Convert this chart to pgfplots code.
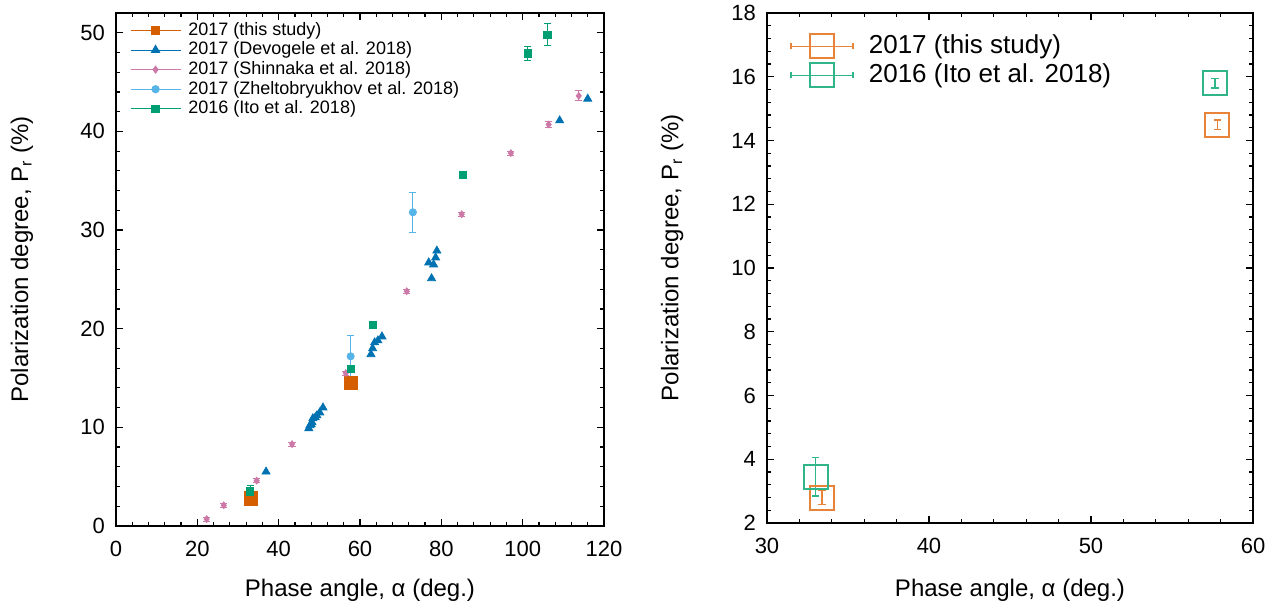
\documentclass[border=0pt]{standalone}
\usepackage{fontspec}
\setmainfont{Liberation Sans}
\usepackage{pgfplots}
\pgfplotsset{compat=1.18}

\definecolor{cOrange}{HTML}{D55E00}
\definecolor{cBlue}{HTML}{0072B2}
\definecolor{cPink}{HTML}{CC79A7}
\definecolor{cSky}{HTML}{56B4E9}
\definecolor{cGreen}{HTML}{009E73}
\definecolor{rOrange}{HTML}{E8833A}
\definecolor{rGreen}{HTML}{30B48A}

\pgfplotsset{
  myax/.style={
    scale only axis,
    axis line style={line width=0.9pt},
    tick align=inside, xtick pos=both, ytick pos=both,
    major tick length=3.5pt, minor tick length=2pt,
    every tick/.style={black, line width=0.6pt},
    tick label style={font=\fontsize{11}{13}\selectfont},
    xticklabel style={yshift=-4pt},
    yticklabel style={xshift=-2pt},
    label style={font=\fontsize{12}{14}\selectfont},
    /pgf/number format/assume math mode=true,
    legend cell align=left,
  },
  lerr/.style={error bars/.cd, y dir=both, y explicit,
    error bar style={line width=0.5pt},
    error mark options={rotate=90, mark size=1.8pt, line width=0.5pt}},
  rerr/.style={error bars/.cd, y dir=both, y explicit,
    error bar style={line width=0.8pt},
    error mark options={rotate=90, mark size=1.8pt, line width=0.8pt}},
}

\begin{document}
\begin{tikzpicture}
\useasboundingbox (-58pt,-43pt) rectangle (582.5pt,263pt);

% left panel
\begin{axis}[myax,
  at={(0pt,0pt)}, anchor=south west,
  width=244pt, height=256.5pt,
  xmin=0, xmax=120, ymin=0, ymax=52,
  xtick={0,20,...,120}, ytick={0,10,...,50},
  minor x tick num=4, minor y tick num=4,
  xlabel={Phase angle, α (deg.)},
  ylabel={Polarization degree, P\textsubscript{r} (\%)},
  xlabel style={at={(axis description cs:0.5,-0.125)}, anchor=center},
  ylabel style={at={(axis description cs:-0.193,0.52)}, anchor=center},
  legend style={draw=none, fill=none, font=\fontsize{9}{10}\selectfont,
    at={(axis description cs:0.028,0.985)}, anchor=north west,
    inner sep=0pt, row sep=0.5pt,
    nodes={inner sep=0.6pt, text height=6.5pt, text depth=1.6pt},
    /tikz/every odd column/.append style={column sep=3pt}},
  legend image code/.code={
    \draw[#1, sharp plot, mark repeat=2, mark phase=2, line width=0.5pt]
      plot coordinates {(0pt,0pt) (12.5pt,0pt) (25pt,0pt)};},
]
\addplot[cOrange, only marks, mark=square*, mark size=3.3pt,
  legend image post style={mark size=2.2pt}] coordinates {
  (33.2,2.8) (57.7,14.5)
};
\addplot[cBlue, only marks, mark=triangle*, mark size=2.3pt] coordinates {
  (36.9,5.5) (47.4,9.9) (47.7,10.2) (48.0,10.3) (48.2,10.5) (48.4,10.9)
  (49.0,11.0) (49.4,11.2) (50.1,11.5) (50.9,12.0)
  (62.7,17.4) (63.1,18.0) (63.6,18.6) (64.4,18.8) (65.4,19.2)
  (77.6,25.1) (76.9,26.7) (78.1,26.5) (78.6,27.2) (78.9,27.9)
  (109.1,41.1) (116.0,43.3)
};
\addplot[cPink, only marks, mark=diamond*, mark size=1.7pt, lerr]
  table[x=x, y=y, y error=e] {
  x     y     e
  22.3  0.7   0.2
  26.5  2.1   0.2
  34.6  4.6   0.2
  43.3  8.3   0.2
  56.5  15.5  0.2
  71.5  23.8  0.2
  85.0  31.6  0.2
  97.1  37.8  0.2
  106.4 40.7  0.3
  113.8 43.6  0.5
};
\addplot[cSky, only marks, mark=*, mark size=1.8pt, lerr]
  table[x=x, y=y, y error=e] {
  x     y     e
  57.7  17.2  2.1
  73.0  31.8  2.0
};
\addplot[cGreen, only marks, mark=square*, mark size=1.8pt, lerr]
  table[x=x, y=y, y error=e] {
  x     y     e
  33.0  3.5   0.6
  57.7  15.9  0.2
  63.2  20.4  0.2
  85.3  35.6  0.3
  101.2 47.9  0.7
  106.1 49.8  1.1
};
\legend{2017 (this study), 2017 (Devogele et al. 2018), 2017 (Shinnaka et al. 2018),
  2017 (Zheltobryukhov et al. 2018), 2016 (Ito et al. 2018)}
\end{axis}

% right panel
\begin{axis}[myax,
  at={(325.5pt,1.5pt)}, anchor=south west,
  width=243pt, height=255pt,
  xmin=30, xmax=60, ymin=2, ymax=18,
  xtick={30,40,...,60}, ytick={2,4,...,18},
  minor x tick num=4, minor y tick num=4,
  xlabel={Phase angle, α (deg.)},
  ylabel={Polarization degree, P\textsubscript{r} (\%)},
  xlabel style={at={(axis description cs:0.5,-0.131)}, anchor=center},
  ylabel style={at={(axis description cs:-0.195,0.52)}, anchor=center},
  legend style={draw=none, fill=none, font=\fontsize{13}{15}\selectfont,
    at={(axis description cs:0.047,0.906)}, anchor=west,
    inner sep=0pt, row sep=1.2pt,
    nodes={inner sep=0.5pt, text height=9.5pt, text depth=2.8pt},
    /tikz/every odd column/.append style={column sep=7pt}},
  legend image code/.code={
    \draw[#1, line width=0.8pt] (0pt,0pt) -- (31pt,0pt);
    \draw[#1, line width=0.8pt] (0pt,-1.5pt) -- (0pt,1.5pt);
    \draw[#1, line width=0.8pt] (31pt,-1.5pt) -- (31pt,1.5pt);
    \draw[#1, line width=1pt] plot coordinates {(15.5pt,0pt)};},
]
\addplot[rOrange, only marks, mark=square, mark size=6pt,
  mark options={line width=1pt}, rerr]
  table[x=x, y=y, y error=e] {
  x     y     e
  33.4  2.8   0.22
  57.8  14.5  0.15
};
\addplot[rGreen, only marks, mark=square, mark size=6pt,
  mark options={line width=1pt}, rerr]
  table[x=x, y=y, y error=e] {
  x     y     e
  33.0  3.45  0.6
  57.65 15.8  0.15
};
\legend{2017 (this study), 2016 (Ito et al. 2018)}
\end{axis}
\end{tikzpicture}
\end{document}
